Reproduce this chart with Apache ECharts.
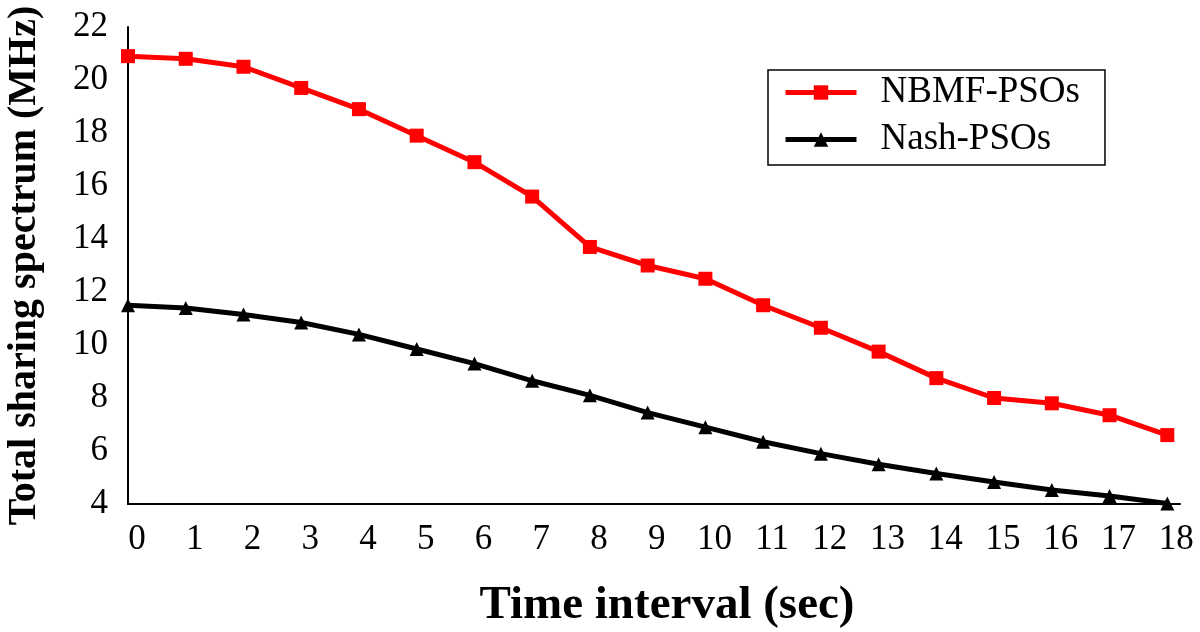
<!DOCTYPE html>
<html>
<head>
<meta charset="utf-8">
<script src="https://cdn.jsdelivr.net/npm/echarts@6/dist/echarts.min.js"></script>
<style>html,body{margin:0;padding:0;background:#fff}#c{width:1200px;height:632px}</style>
</head>
<body>
<div id="c"></div>
<script>
var timeSteps = [0,1,2,3,4,5,6,7,8,9,10,11,12,13,14,15,16,17,18];
var nbmfPSOs = [20.9,20.8,20.5,19.7,18.9,17.9,16.9,15.6,13.7,13.0,12.5,11.5,10.65,9.75,8.75,8.0,7.8,7.35,6.6];
var nashPSOs = [11.5,11.4,11.15,10.85,10.4,9.85,9.3,8.65,8.1,7.45,6.9,6.35,5.9,5.5,5.15,4.83,4.53,4.3,4.02];
var seriesNames = ['NBMF-PSOs','Nash-PSOs'];
var yTicks = {min:4, max:22, step:2};

function pairs(xs, ys){ return xs.map(function(x,i){ return [x, ys[i]]; }); }

var FONT = 'Liberation Serif';
var chart = echarts.init(document.getElementById('c'), null, {renderer:'canvas'});
chart.setOption({
  animation:false,
  backgroundColor:'#fff',
  grid:{left:128, right:20, top:27, bottom:128, containLabel:false, outerBoundsMode:'none'},
  xAxis:{
    type:'value', min:0, max:18.22, interval:1,
    axisLine:{show:true, lineStyle:{color:'#000', width:2}},
    axisTick:{show:false},
    splitLine:{show:false},
    axisLabel:{
      color:'#000', fontFamily:FONT, fontSize:35, margin:18,
      padding:[0,0,0,18],
      showMaxLabel:false,
      formatter:function(v){ return Number.isInteger(v) ? String(v) : ''; }
    },
    name:'Time interval (sec)', nameLocation:'middle', nameGap:78,
    nameTextStyle:{color:'#000', fontFamily:FONT, fontSize:47, fontWeight:'bold', padding:[0,0,0,26]}
  },
  yAxis:{
    type:'value', min:yTicks.min, max:yTicks.max, interval:yTicks.step,
    axisLine:{show:true, lineStyle:{color:'#000', width:2}},
    axisTick:{show:false},
    splitLine:{show:false},
    axisLabel:{color:'#000', fontFamily:FONT, fontSize:35, margin:20},
    name:'Total sharing spectrum (MHz)', nameLocation:'middle', nameGap:83,
    nameTextStyle:{color:'#000', fontFamily:FONT, fontSize:40, fontWeight:'bold'}
  },
  legend:{
    left:768, top:70, orient:'vertical',
    data:seriesNames,
    itemWidth:71, itemHeight:18, itemGap:10,
    padding:[4,25,7,15],
    borderColor:'#000', borderWidth:1.5, borderRadius:0,
    lineStyle:{width:5},
    textStyle:{color:'#000', fontFamily:FONT, fontSize:37, padding:[0,0,0,19]}
  },
  series:[
    {
      name:seriesNames[0], type:'line', data:pairs(timeSteps, nbmfPSOs),
      symbol:'rect', symbolSize:14, clip:false,
      lineStyle:{color:'#ff0000', width:5},
      itemStyle:{color:'#ff0000'}
    },
    {
      name:seriesNames[1], type:'line', data:pairs(timeSteps, nashPSOs),
      symbol:'triangle', symbolSize:14, clip:false,
      lineStyle:{color:'#000', width:5},
      itemStyle:{color:'#000'}
    }
  ]
});
</script>
</body>
</html>
